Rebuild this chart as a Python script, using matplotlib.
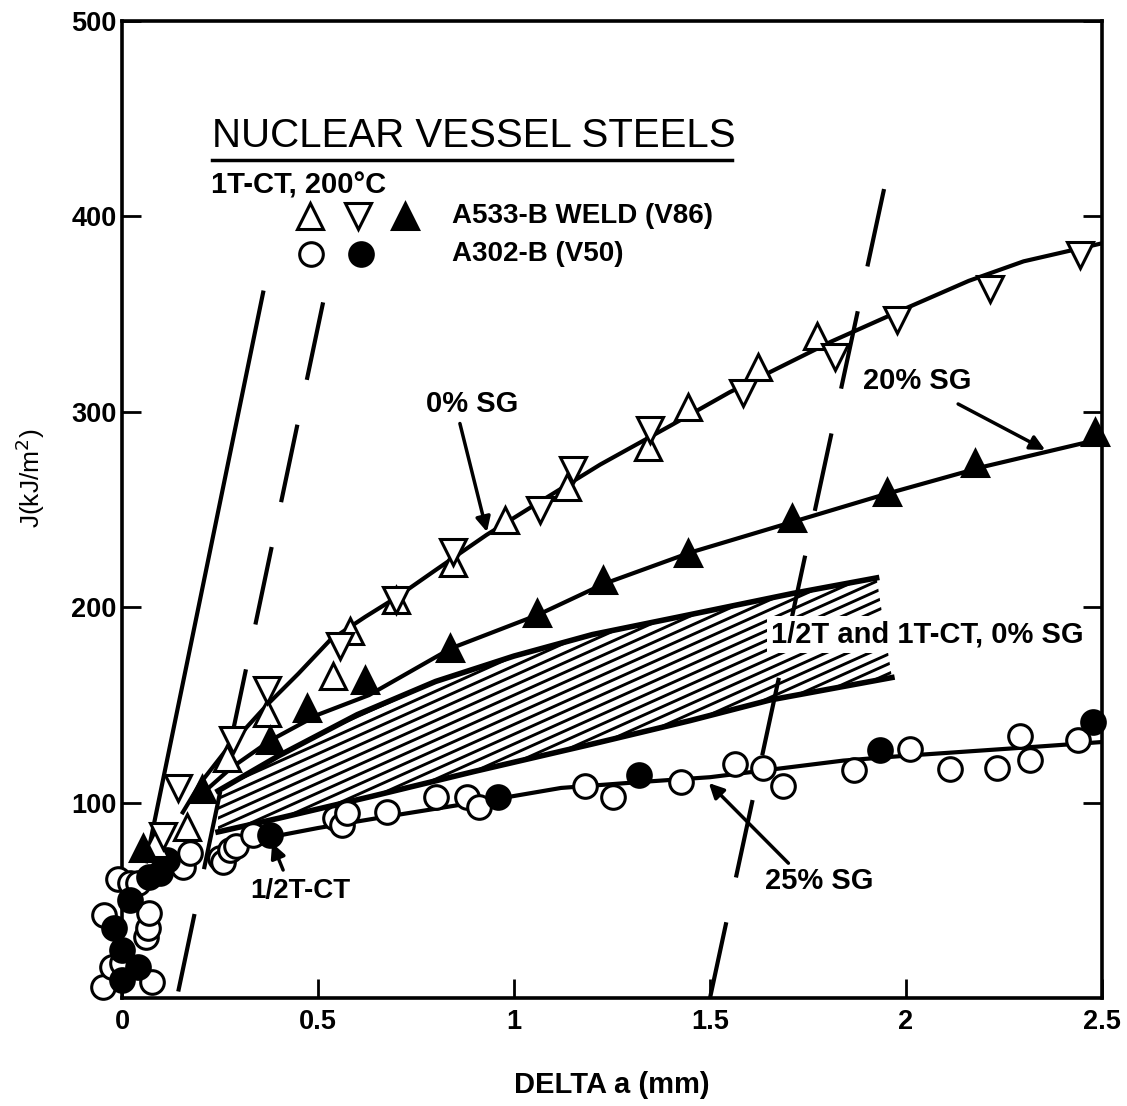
import numpy as np
import matplotlib
matplotlib.use("Agg")
import matplotlib.pyplot as plt
from matplotlib.patches import Polygon

plt.rcParams["font.family"] = ["Liberation Sans", "DejaVu Sans"]

# ---- data (DELTA a in mm, J in kJ/m^2) ----
# A533-B weld, 0% SG: open up / down triangles
up_x = [0.085, 0.166, 0.268, 0.370, 0.538, 0.582, 0.700, 0.845, 0.977, 1.135, 1.342, 1.444, 1.622, 1.773]
up_y = [79, 87.5, 123, 146, 165, 188, 203.7, 222.6, 244.6, 261.5, 282, 302.5, 323, 339]
down_x = [0.105, 0.143, 0.283, 0.370, 0.556, 0.700, 0.845, 1.066, 1.151, 1.347, 1.584, 1.819, 1.977, 2.214, 2.444]
down_y = [83, 107.5, 132, 157.6, 180, 203.7, 228, 249.7, 270, 290.7, 309.6, 328, 347, 363, 380]
# A533-B weld, 20% SG: filled triangles
wfill_x = [0.054, 0.205, 0.378, 0.472, 0.620, 0.837, 1.059, 1.227, 1.444, 1.709, 1.952, 2.176, 2.482]
wfill_y = [77, 107, 132, 148.4, 162.7, 179, 197, 214, 227.7, 245.6, 259, 273.8, 289.7]
# A302-B: open circles
oc_x = [-0.048, 0.077, -0.025, 0.0, 0.06, 0.066, 0.07, -0.045, -0.01, 0.02, 0.04, 0.156, 0.173,
        0.250, 0.258, 0.276, 0.290, 0.335, 0.543, 0.561, 0.574, 0.676, 0.80, 0.88, 0.91,
        1.18, 1.253, 1.426, 1.564, 1.635, 1.686, 1.867, 2.01, 2.112, 2.232, 2.291, 2.316, 2.439]
oc_y = [5.6, 8, 16, 18, 31, 36, 43.5, 42.5, 61, 59, 59, 67, 74,
        71.6, 69.6, 75.7, 78, 83.4, 92, 88.5, 94.7, 95, 103, 103, 98,
        108.5, 103, 110.5, 120, 117.7, 108.5, 116.7, 127.4, 117, 117.7, 134, 122, 132]
# A302-B: filled circles
fc_x = [0.0, 0.04, 0.0, -0.02, 0.02, 0.07, 0.097, 0.114, 0.378, 0.96, 1.32, 1.934, 2.477]
fc_y = [9, 16, 24.5, 36, 50, 62, 64, 70.6, 83.4, 103, 114, 127, 141]

# fitted curves
sg0_x = [0.155, 0.20, 0.27, 0.37, 0.45, 0.53, 0.62, 0.70, 0.80, 0.93, 1.05, 1.22, 1.40, 1.55, 1.70, 1.81, 2.0, 2.16, 2.30, 2.495]
sg0_y = [95, 110, 128, 150, 166, 183, 195, 205, 219, 237, 252, 273, 293, 310, 325, 336, 353, 367, 377, 386]
sg20_x = [0.19, 0.28, 0.38, 0.50, 0.63, 0.84, 1.06, 1.23, 1.45, 1.55, 1.75, 1.95, 2.20, 2.495]
sg20_y = [102, 118, 132, 145, 155, 179, 196, 212, 228, 234, 246, 258, 272, 286]
sg25_x = [0.37, 0.50, 0.68, 0.96, 1.12, 1.32, 1.50, 1.84, 2.0, 2.29, 2.50]
sg25_y = [82, 87, 93, 102, 107.5, 110.5, 113, 121.5, 124, 128, 131]

# scatter band, 1/2T and 1T-CT, 0% SG
band_up_x = [0.245, 0.40, 0.60, 0.80, 1.00, 1.20, 1.42, 1.71, 1.925]
band_up_y = [106, 124, 145, 162, 175, 186, 195, 207, 215]
band_lo_x = [0.245, 0.40, 0.633, 0.90, 1.20, 1.45, 1.653, 1.964]
band_lo_y = [85, 92, 103, 116, 130, 142, 152.5, 164]

# blunting line and 0.15 / 1.5 mm exclusion lines (listed top to bottom)
blunt_x = [0.36, 0.062]
blunt_y = [361, 70]
excl1_x = [0.513, 0.14]
excl1_y = [356, 0]
excl2_x = [1.944, 1.5]
excl2_y = [414, 0]

x_ticks = [0, 0.5, 1, 1.5, 2, 2.5]
x_ticklabels = ["0", "0.5", "1", "1.5", "2", "2.5"]
y_ticks = [100, 200, 300, 400, 500]

fig = plt.figure(figsize=(11.27, 11.06), dpi=100)
ax = fig.add_axes([122 / 1127, 108 / 1106, 980 / 1127, 977 / 1106])
ax.set_xlim(0, 2.5)
ax.set_ylim(0, 500)

# hatched band
band = Polygon(np.column_stack([band_up_x + band_lo_x[::-1], band_up_y + band_lo_y[::-1]]),
               closed=True, facecolor="none", edgecolor="none")
ax.add_patch(band)
hx = np.array([0.2, 2.05])
for c in np.arange(-200, 200, 5.0):
    ln, = ax.plot(hx, 90 * hx + c, color="k", lw=2.1, solid_capstyle="butt")
    ln.set_clip_path(band)
ax.plot(band_up_x, band_up_y, color="k", lw=4)
ax.plot(band_lo_x, band_lo_y, color="k", lw=4)

# straight lines
ax.plot(blunt_x, blunt_y, color="k", lw=3)
ax.plot(excl1_x, excl1_y, color="k", lw=3, dashes=(19, 11))
ax.plot(excl2_x, excl2_y, color="k", lw=3, dashes=(19, 11))

# curves
for cx, cy in [(sg0_x, sg0_y), (sg20_x, sg20_y), (sg25_x, sg25_y)]:
    ax.plot(cx, cy, color="k", lw=3)

mk = dict(ls="none", mec="k", mew=2.2, clip_on=False, zorder=5)
ax.plot(oc_x, oc_y, "o", ms=17, mfc="white", **mk)
ax.plot(fc_x, fc_y, "o", ms=17, mfc="black", **mk)
ax.plot(up_x, up_y, "^", ms=19, mfc="white", **mk)
ax.plot(down_x, down_y, "v", ms=19, mfc="white", **mk)
ax.plot(wfill_x, wfill_y, "^", ms=19, mfc="black", **mk)

# legend block
ax.text(0.898, 441, "NUCLEAR VESSEL STEELS", ha="center", va="center", fontsize=29)
ax.plot([0.2296, 1.556], [429, 429], color="k", lw=2.5)
ax.text(0.227, 416, "1T-CT, 200°C", ha="left", va="center", fontsize=21, fontweight="bold")
ax.plot([0.48], [400], "^", ms=19, mfc="white", **mk)
ax.plot([0.602], [400], "v", ms=19, mfc="white", **mk)
ax.plot([0.722], [400], "^", ms=19, mfc="black", **mk)
ax.plot([0.482], [381], "o", ms=17, mfc="white", **mk)
ax.plot([0.61], [381], "o", ms=17, mfc="black", **mk)
ax.text(0.842, 400, "A533-B WELD (V86)", ha="left", va="center", fontsize=20, fontweight="bold")
ax.text(0.842, 381, "A302-B (V50)", ha="left", va="center", fontsize=20, fontweight="bold")

# annotations
arr = dict(arrowstyle="-|>", color="k", lw=2.5, mutation_scale=22, shrinkA=0, shrinkB=0)
ax.text(0.893, 304, "0% SG", ha="center", va="center", fontsize=21, fontweight="bold")
ax.annotate("", xy=(0.931, 238.5), xytext=(0.862, 294), arrowprops=arr)
ax.text(2.028, 316, "20% SG", ha="center", va="center", fontsize=21, fontweight="bold")
ax.annotate("", xy=(2.355, 280.5), xytext=(2.133, 304), arrowprops=arr)
ax.text(1.778, 60, "25% SG", ha="center", va="center", fontsize=21, fontweight="bold")
ax.annotate("", xy=(1.497, 110), xytext=(1.70, 69), arrowprops=arr)
ax.text(0.454, 55, "1/2T-CT", ha="center", va="center", fontsize=20, fontweight="bold")
ax.annotate("", xy=(0.383, 79.3), xytext=(0.411, 65.5), arrowprops=arr)
ax.text(2.054, 186, "1/2T and 1T-CT, 0% SG", ha="center", va="center", fontsize=21,
        fontweight="bold", zorder=6,
        bbox=dict(boxstyle="square,pad=0.15", fc="white", ec="none"))

# axes styling
for s in ax.spines.values():
    s.set_linewidth(2.6)
ax.set_xticks(x_ticks)
ax.set_xticklabels(x_ticklabels)
ax.set_yticks(y_ticks)
ax.tick_params(direction="in", length=14, width=2, labelsize=19.5, right=True)
ax.tick_params(axis="x", pad=8)
ax.tick_params(axis="y", pad=4)
for lab in ax.get_xticklabels() + ax.get_yticklabels():
    lab.set_fontweight("bold")
ax.set_xlabel("DELTA a (mm)", fontsize=21, fontweight="bold", labelpad=26)
fig.text(30 / 1127, 1 - 478 / 1106, "J(kJ/m$^2$)", rotation=90, ha="center", va="center",
         fontsize=19)

fig.savefig("out.png", dpi=100)
